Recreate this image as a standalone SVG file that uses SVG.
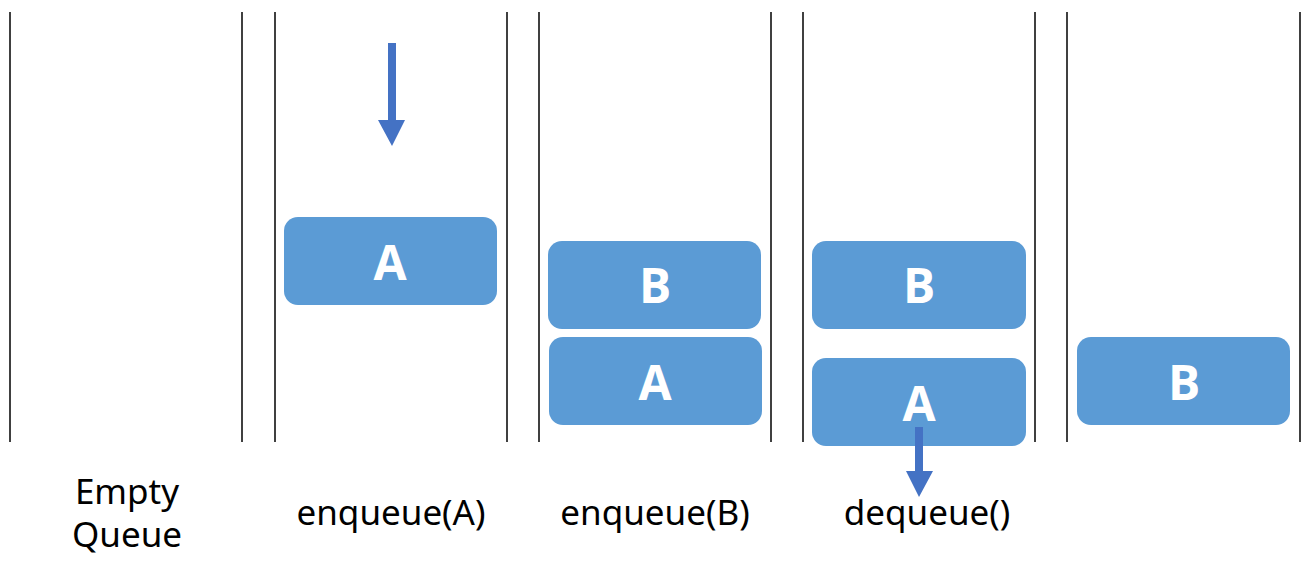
<svg xmlns="http://www.w3.org/2000/svg" width="1306" height="564" viewBox="0 0 1306 564">
<style>
.wall{stroke:#000;stroke-width:1.5}
.box{fill:#5B9BD5}
.bl{font-family:"Open Sans","Noto Sans",sans-serif;font-weight:bold;font-size:48px;fill:#fff;text-anchor:middle}
.lab{font-family:"Noto Sans","Open Sans",sans-serif;font-size:35px;fill:#000;text-anchor:middle}
.arr{fill:#4472C4}
</style>
<rect width="1306" height="564" fill="#fff"/>
<g id="walls">
<line class="wall" x1="10" y1="12" x2="10" y2="442"/>
<line class="wall" x1="242" y1="12" x2="242" y2="442"/>
<line class="wall" x1="275" y1="12" x2="275" y2="442"/>
<line class="wall" x1="507" y1="12" x2="507" y2="442"/>
<line class="wall" x1="539" y1="12" x2="539" y2="442"/>
<line class="wall" x1="771" y1="12" x2="771" y2="442"/>
<line class="wall" x1="803" y1="12" x2="803" y2="442"/>
<line class="wall" x1="1035" y1="12" x2="1035" y2="442"/>
<line class="wall" x1="1067" y1="12" x2="1067" y2="442"/>
<line class="wall" x1="1300" y1="12" x2="1300" y2="442"/>
</g>
<g id="node-a1"><rect class="box" x="284" y="217" width="213" height="88" rx="14"/><text class="bl" x="390" y="280">A</text></g>
<g id="node-b2"><rect class="box" x="548" y="241" width="213" height="88" rx="14"/><text class="bl" x="655" y="303">B</text></g>
<g id="node-a2"><rect class="box" x="549" y="337" width="213" height="88" rx="14"/><text class="bl" x="655" y="400">A</text></g>
<g id="node-b3"><rect class="box" x="812" y="241" width="214" height="88" rx="14"/><text class="bl" x="919" y="303">B</text></g>
<g id="node-a3"><rect class="box" x="812" y="358" width="214" height="88" rx="14"/><text class="bl" x="919" y="421">A</text></g>
<g id="node-b4"><rect class="box" x="1077" y="337" width="213" height="88" rx="14"/><text class="bl" x="1184" y="400">B</text></g>
<g id="connectors">
<polygon class="arr" points="388,43 396,43 396,120 405,120 392,146 378,120 388,120"/>
<polygon class="arr" points="915,427 923,427 923,471 933,471 919,497 906,471 915,471"/>
</g>
<g id="labels">
<text class="lab" x="127" y="504">Empty</text>
<text class="lab" x="127" y="547">Queue</text>
<text class="lab" x="391" y="525">enqueue(A)</text>
<text class="lab" x="655" y="525">enqueue(B)</text>
<text class="lab" x="927" y="525">dequeue()</text>
</g>
</svg>
